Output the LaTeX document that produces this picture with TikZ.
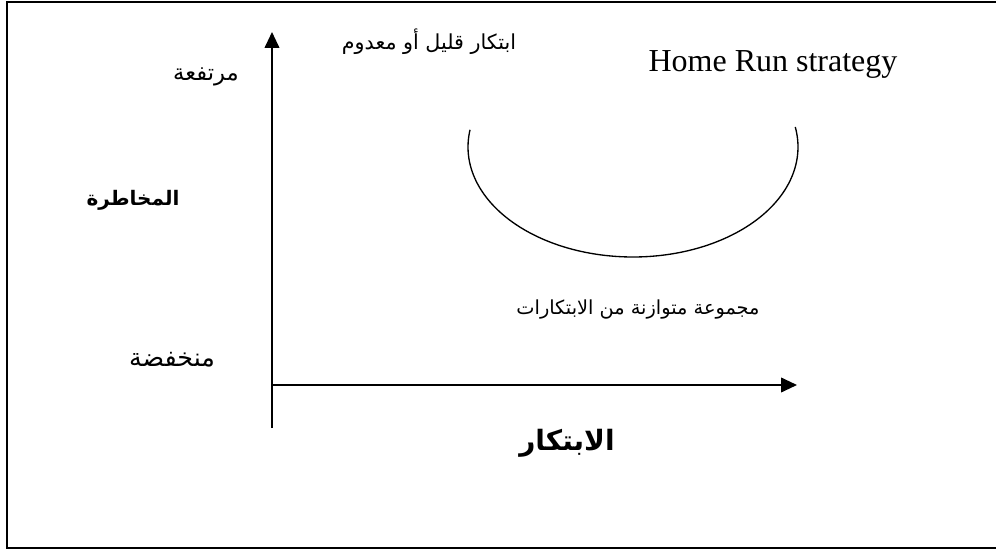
\documentclass[tikz,border=0pt]{standalone}
\usepackage{fontspec}
\usetikzlibrary{arrows.meta}
\setmainfont{Liberation Serif}
\newfontfamily\arabicfont[Script=Arabic]{DejaVu Sans}
\TeXXeTstate=1
\newcommand\arsize[1]{\fontsize{#1}{#1}\selectfont}
\tikzset{
  frame/.style={line width=1.5pt},
  axis/.style={line width=1.4pt,-{Triangle[width=11pt,length=12pt]}},
  curve/.style={line width=1pt},
  artext/.style={inner sep=0pt,font=\arabicfont},
  arbold/.style={inner sep=0pt,font=\arabicfont\bfseries},
  entext/.style={inner sep=0pt,font=\fontsize{24}{28}\selectfont}
}
\begin{document}
\begin{tikzpicture}[x=0.75pt,y=-0.75pt]
\useasboundingbox (0,0) rectangle (996,549);
% frame (right side falls outside the picture)
\draw[frame] (996,2) -- (7,2) -- (7,548) -- (996,548);
% axes
\coordinate (ybot) at (272,428);
\coordinate (ytop) at (272,32);
\coordinate (xorg) at (272,385);
\coordinate (xend) at (797,385);
\draw[axis] (ybot) -- (ytop);
\draw[axis] (xorg) -- (xend);
% half ellipse
\draw[curve] plot[domain=171:370.5,samples=120,smooth] ({633+165*cos(\x)},{147-110*sin(\x)});
% labels
\node[artext] (high) at (206,77) {\arsize{17}\beginR مرتفعة\endR};
\node[arbold] (risk) at (133,200) {\arsize{15}\beginR المخاطرة\endR};
\node[artext] (low) at (172,360) {\arsize{19}\beginR منخفضة\endR};
\node[artext] (little) at (429,42) {\arsize{15.5}\beginR ابتكار قليل أو معدوم\endR};
\node[entext] (home) at (773,64) {Home Run strategy};
\node[artext] (balanced) at (638,310) {\arsize{14.5}\beginR مجموعة متوازنة من الابتكارات\endR};
\node[arbold] (innov) at (567,443) {\arsize{21}\beginR الابتكار\endR};
\end{tikzpicture}
\end{document}
